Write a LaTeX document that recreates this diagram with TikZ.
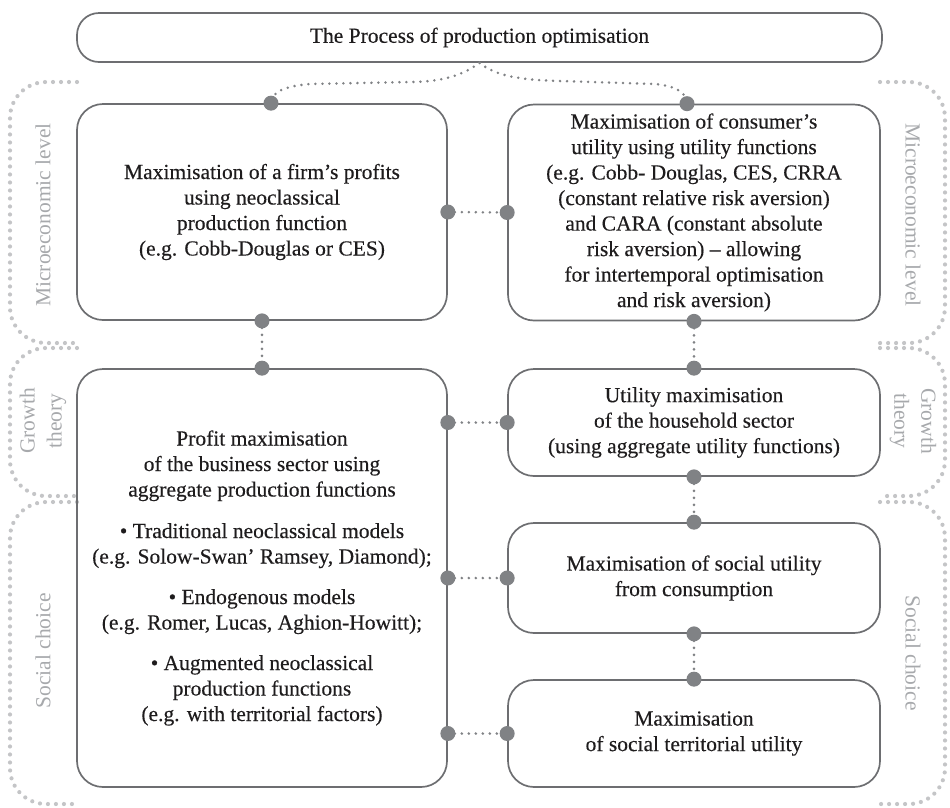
\documentclass[tikz,border=0pt]{standalone}
\usepackage{fontspec}
\setmainfont{Liberation Serif}[FakeBold=0.3]
\newfontfamily\labfont{Liberation Serif}
\usetikzlibrary{calc}
\definecolor{txtc}{HTML}{1E1C1D}
\definecolor{boxc}{HTML}{6D6E71}
\definecolor{dotc}{HTML}{808285}
\definecolor{bandc}{HTML}{C4C5C7}
\definecolor{labc}{HTML}{A7A9AC}
\begin{document}
\begin{tikzpicture}[x=1pt,y=-1pt,
  box/.style={draw=boxc, line width=1.7pt, rounded corners=26pt, inner sep=0pt, align=center, text=txtc, font=\fontsize{21.5}{25.5}\selectfont},
  conn/.style={draw=dotc, line width=2.8pt, line cap=round, dash pattern=on 0pt off 7pt},
  enddot/.style={fill=dotc},
  band/.style={draw=bandc, line width=4.2pt, line cap=round, dash pattern=on 0pt off 8pt, rounded corners=36pt},
  lab/.style={text=labc, font=\labfont\fontsize{21.5}{27}\selectfont, align=center, inner sep=0pt}]
\useasboundingbox (0,0) rectangle (950,807);

% side bands
\draw[band] (77,82) -- (10,82) -- (10,343) -- (77,343);
\draw[band] (77,348) -- (10,348) -- (10,496) -- (77,496);
\draw[band] (77,502) -- (10,502) -- (10,804) -- (77,804);
\draw[band] (880,82) -- (945,82) -- (945,343) -- (880,343);
\draw[band] (880,348) -- (945,348) -- (945,496) -- (880,496);
\draw[band] (880,502) -- (945,502) -- (945,804) -- (880,804);

\node[lab, rotate=90] (lmic) at (43,215) {Microeconomic level};
\node[lab, rotate=90] (lgro) at (43,421) {Growth\\theory};
\node[lab, rotate=90] (lsoc) at (43,651) {Social choice};
\node[lab, rotate=-90] (rmic) at (913,215) {Microeconomic level};
\node[lab, rotate=-90] (rgro) at (913,421) {Growth\\theory};
\node[lab, rotate=-90] (rsoc) at (913,653) {Social choice};

% boxes
\node[box, rounded corners=22pt, minimum width=805pt, minimum height=49pt] (top) at (479.5,37.5) {The Process of production optimisation};
\node[box, minimum width=370pt, minimum height=216pt] (lm) at (262,212) {Maximisation of a firm’s profits\\ using neoclassical\\ production function\\ (e.g. Cobb-Douglas or CES)};
\node[box, minimum width=372pt, minimum height=216pt] (rm) at (694,212.5) {Maximisation of consumer’s\\ utility using utility functions\\ (e.g. Cobb- Douglas, CES, CRRA\\ (constant relative risk aversion)\\ and CARA (constant absolute\\ risk aversion) – allowing\\ for intertemporal optimisation\\ and risk aversion)};
\node[box, minimum width=370pt, minimum height=418pt] (lb) at (262,578) {Profit maximisation\\ of the business sector using\\ aggregate production functions\\[16pt] • Traditional neoclassical models\\ (e.g. Solow-Swan’ Ramsey, Diamond);\\[15pt] • Endogenous models\\ (e.g. Romer, Lucas, Aghion-Howitt);\\[15pt] • Augmented neoclassical\\ production functions\\ (e.g. with territorial factors)};
\node[box, minimum width=372pt, minimum height=107pt] (rg) at (694,422.5) {Utility maximisation\\ of the household sector\\ (using aggregate utility functions)};
\node[box, minimum width=372pt, minimum height=110pt] (rs1) at (694,578) {Maximisation of social utility\\ from consumption};
\node[box, minimum width=372pt, minimum height=107pt] (rs2) at (694,733.5) {Maximisation\\ of social territorial utility};

% anchor points
\coordinate (lmtop) at ([xshift=9pt]lm.north);
\coordinate (rmtop) at ([xshift=-7pt]rm.north);
\coordinate (lbg) at (lb.east |- rg.west);
\coordinate (lbs) at (lb.east |- rs2.west);

% top connector
\draw[conn] (top.south) .. controls (462,76) and (440,82) .. (410,82) -- (310,84) .. controls (285,86) and (271,92) .. (lmtop);
\draw[conn] (top.south) .. controls (496,76) and (520,80) .. (560,81) -- (655,84) .. controls (675,86) and (687,92) .. (rmtop);

% connectors
\draw[conn] (lm.east) -- (rm.west);
\draw[conn] (lm.south) -- (lb.north);
\draw[conn] (rm.south) -- (rg.north);
\draw[conn] (lbg) -- (rg.west);
\draw[conn] (rg.south) -- (rs1.north);
\draw[conn] (lb.east) -- (rs1.west);
\draw[conn] (rs1.south) -- (rs2.north);
\draw[conn] (lbs) -- (rs2.west);

% end dots
\foreach \p in {lmtop, rmtop, lm.east, rm.west, lm.south, lb.north, rm.south, rg.north, lbg, rg.west, rg.south, rs1.north, lb.east, rs1.west, rs1.south, rs2.north, lbs, rs2.west}
  \fill[enddot] (\p) circle[radius=7.5pt];
\end{tikzpicture}
\end{document}
